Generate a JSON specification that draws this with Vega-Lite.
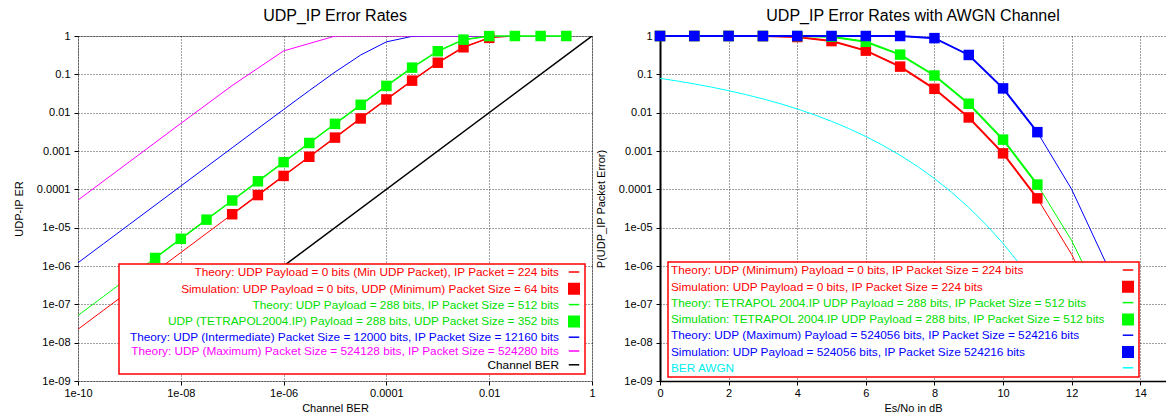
{
  "$schema": "https://vega.github.io/schema/vega-lite/v6.json",
  "background": "white",
  "padding": {"left": 12, "top": 7, "right": 0, "bottom": 0},
  "bounds": "flush",
  "spacing": 68,
  "config": {
    "font": "Liberation Sans",
    "view": {"stroke": null},
    "title": {"font": "Liberation Sans", "fontSize": 16, "fontWeight": "normal", "color": "#000", "offset": 6},
    "axis": {
      "labelFont": "Liberation Sans", "labelFontSize": 11, "labelColor": "#000",
      "titleFont": "Liberation Sans", "titleFontSize": 11, "titleFontWeight": "normal", "titleColor": "#000",
      "gridColor": "#000", "gridDash": [1, 2], "gridOpacity": 0.75, "grid": true,
      "tickColor": "#000", "tickSize": 4, "labelPadding": 4, "labelFlush": false
    },
    "axisX": {"labelPadding": 2, "titlePadding": 4},
    "legend": {
      "labelFont": "Liberation Sans", "labelFontSize": 11.8, "labelLimit": 0,
      "strokeColor": "#ff0000", "fillColor": "#ffffff", "symbolSize": 110,
      "symbolStrokeWidth": 1.5, "rowPadding": 0.8, "title": null
    }
  },
  "datasets": {
    "left": [
      {"x": 1e-10, "y": 2.24e-8, "s": "T224", "k": "t"},
      {"x": 3.162e-10, "y": 7.08e-8, "s": "T224", "k": "t"},
      {"x": 1e-9, "y": 2.24e-7, "s": "T224", "k": "t"},
      {"x": 3.162e-9, "y": 7.08e-7, "s": "T224", "k": "t"},
      {"x": 1e-8, "y": 2.24e-6, "s": "T224", "k": "t"},
      {"x": 3.162e-8, "y": 7.08e-6, "s": "T224", "k": "t"},
      {"x": 1e-7, "y": 2.24e-5, "s": "T224", "k": "t"},
      {"x": 3.162e-7, "y": 7.08e-5, "s": "T224", "k": "t"},
      {"x": 1e-6, "y": 2.24e-4, "s": "T224", "k": "t"},
      {"x": 3.162e-6, "y": 7.08e-4, "s": "T224", "k": "t"},
      {"x": 1e-5, "y": 0.002237, "s": "T224", "k": "t"},
      {"x": 3.162e-5, "y": 0.00706, "s": "T224", "k": "t"},
      {"x": 1e-4, "y": 0.02215, "s": "T224", "k": "t"},
      {"x": 3.162e-4, "y": 0.0684, "s": "T224", "k": "t"},
      {"x": 1e-3, "y": 0.2008, "s": "T224", "k": "t"},
      {"x": 3.162e-3, "y": 0.5081, "s": "T224", "k": "t"},
      {"x": 1e-2, "y": 0.8947, "s": "T224", "k": "t"},
      {"x": 3.162e-2, "y": 0.99925, "s": "T224", "k": "t"},

      {"x": 1e-10, "y": 5.12e-8, "s": "T512", "k": "t"},
      {"x": 3.162e-10, "y": 1.619e-7, "s": "T512", "k": "t"},
      {"x": 1e-9, "y": 5.12e-7, "s": "T512", "k": "t"},
      {"x": 3.162e-9, "y": 1.619e-6, "s": "T512", "k": "t"},
      {"x": 1e-8, "y": 5.12e-6, "s": "T512", "k": "t"},
      {"x": 3.162e-8, "y": 1.619e-5, "s": "T512", "k": "t"},
      {"x": 1e-7, "y": 5.12e-5, "s": "T512", "k": "t"},
      {"x": 3.162e-7, "y": 1.619e-4, "s": "T512", "k": "t"},
      {"x": 1e-6, "y": 5.119e-4, "s": "T512", "k": "t"},
      {"x": 3.162e-6, "y": 0.001618, "s": "T512", "k": "t"},
      {"x": 1e-5, "y": 0.005107, "s": "T512", "k": "t"},
      {"x": 3.162e-5, "y": 0.01606, "s": "T512", "k": "t"},
      {"x": 1e-4, "y": 0.0499, "s": "T512", "k": "t"},
      {"x": 3.162e-4, "y": 0.1495, "s": "T512", "k": "t"},
      {"x": 1e-3, "y": 0.4009, "s": "T512", "k": "t"},
      {"x": 3.162e-3, "y": 0.8024, "s": "T512", "k": "t"},
      {"x": 1e-2, "y": 0.9942, "s": "T512", "k": "t"},
      {"x": 3.162e-2, "y": 1, "s": "T512", "k": "t"},
      {"x": 0.1, "y": 1, "s": "T512", "k": "t"},
      {"x": 0.3162, "y": 1, "s": "T512", "k": "t"},

      {"x": 1e-10, "y": 1.216e-6, "s": "T12160", "k": "t"},
      {"x": 3.162e-10, "y": 3.845e-6, "s": "T12160", "k": "t"},
      {"x": 1e-9, "y": 1.216e-5, "s": "T12160", "k": "t"},
      {"x": 3.162e-9, "y": 3.845e-5, "s": "T12160", "k": "t"},
      {"x": 1e-8, "y": 1.216e-4, "s": "T12160", "k": "t"},
      {"x": 3.162e-8, "y": 3.845e-4, "s": "T12160", "k": "t"},
      {"x": 1e-7, "y": 0.001215, "s": "T12160", "k": "t"},
      {"x": 3.162e-7, "y": 0.003838, "s": "T12160", "k": "t"},
      {"x": 1e-6, "y": 0.01209, "s": "T12160", "k": "t"},
      {"x": 3.162e-6, "y": 0.03772, "s": "T12160", "k": "t"},
      {"x": 1e-5, "y": 0.1145, "s": "T12160", "k": "t"},
      {"x": 3.162e-5, "y": 0.3193, "s": "T12160", "k": "t"},
      {"x": 1e-4, "y": 0.7036, "s": "T12160", "k": "t"},
      {"x": 3.162e-4, "y": 0.9786, "s": "T12160", "k": "t"},
      {"x": 1e-3, "y": 1, "s": "T12160", "k": "t"},
      {"x": 3.162e-3, "y": 1, "s": "T12160", "k": "t"},
      {"x": 1e-2, "y": 1, "s": "T12160", "k": "t"},
      {"x": 3.162e-2, "y": 1, "s": "T12160", "k": "t"},

      {"x": 1e-10, "y": 5.243e-5, "s": "T524280", "k": "t"},
      {"x": 1e-9, "y": 5.241e-4, "s": "T524280", "k": "t"},
      {"x": 1e-8, "y": 0.00523, "s": "T524280", "k": "t"},
      {"x": 1e-7, "y": 0.05108, "s": "T524280", "k": "t"},
      {"x": 1e-6, "y": 0.408, "s": "T524280", "k": "t"},
      {"x": 1e-5, "y": 0.9947, "s": "T524280", "k": "t"},
      {"x": 1e-4, "y": 1, "s": "T524280", "k": "t"},
      {"x": 1e-3, "y": 1, "s": "T524280", "k": "t"},
      {"x": 1e-2, "y": 1, "s": "T524280", "k": "t"},
      {"x": 3.162e-2, "y": 1, "s": "T524280", "k": "t"},

      {"x": 1e-7, "y": 1e-7, "s": "BER", "k": "b"},
      {"x": 1, "y": 1, "s": "BER", "k": "b"},

      {"x": 1e-7, "y": 2.24e-5, "s": "S64", "k": "s"},
      {"x": 3.162e-7, "y": 7.08e-5, "s": "S64", "k": "s"},
      {"x": 1e-6, "y": 2.24e-4, "s": "S64", "k": "s"},
      {"x": 3.162e-6, "y": 7.08e-4, "s": "S64", "k": "s"},
      {"x": 1e-5, "y": 0.002237, "s": "S64", "k": "s"},
      {"x": 3.162e-5, "y": 0.00706, "s": "S64", "k": "s"},
      {"x": 1e-4, "y": 0.02215, "s": "S64", "k": "s"},
      {"x": 3.162e-4, "y": 0.0684, "s": "S64", "k": "s"},
      {"x": 1e-3, "y": 0.2008, "s": "S64", "k": "s"},
      {"x": 3.162e-3, "y": 0.5081, "s": "S64", "k": "s"},
      {"x": 1e-2, "y": 0.8947, "s": "S64", "k": "s"},

      {"x": 3.162e-9, "y": 1.619e-6, "s": "S352", "k": "s"},
      {"x": 1e-8, "y": 5.12e-6, "s": "S352", "k": "s"},
      {"x": 3.162e-8, "y": 1.619e-5, "s": "S352", "k": "s"},
      {"x": 1e-7, "y": 5.12e-5, "s": "S352", "k": "s"},
      {"x": 3.162e-7, "y": 1.619e-4, "s": "S352", "k": "s"},
      {"x": 1e-6, "y": 5.119e-4, "s": "S352", "k": "s"},
      {"x": 3.162e-6, "y": 0.001618, "s": "S352", "k": "s"},
      {"x": 1e-5, "y": 0.005107, "s": "S352", "k": "s"},
      {"x": 3.162e-5, "y": 0.01606, "s": "S352", "k": "s"},
      {"x": 1e-4, "y": 0.0499, "s": "S352", "k": "s"},
      {"x": 3.162e-4, "y": 0.1495, "s": "S352", "k": "s"},
      {"x": 1e-3, "y": 0.4009, "s": "S352", "k": "s"},
      {"x": 3.162e-3, "y": 0.8024, "s": "S352", "k": "s"},
      {"x": 1e-2, "y": 0.9942, "s": "S352", "k": "s"},
      {"x": 3.162e-2, "y": 1, "s": "S352", "k": "s"},
      {"x": 0.1, "y": 1, "s": "S352", "k": "s"},
      {"x": 0.3162, "y": 1, "s": "S352", "k": "s"}
    ],
    "right": [
      {"x": 0, "y": 0.0786, "s": "AWGN", "k": "t"},
      {"x": 0.5, "y": 0.0671, "s": "AWGN", "k": "t"},
      {"x": 1, "y": 0.0563, "s": "AWGN", "k": "t"},
      {"x": 1.5, "y": 0.0464, "s": "AWGN", "k": "t"},
      {"x": 2, "y": 0.0375, "s": "AWGN", "k": "t"},
      {"x": 2.5, "y": 0.0296, "s": "AWGN", "k": "t"},
      {"x": 3, "y": 0.0229, "s": "AWGN", "k": "t"},
      {"x": 3.5, "y": 0.0172, "s": "AWGN", "k": "t"},
      {"x": 4, "y": 0.0125, "s": "AWGN", "k": "t"},
      {"x": 4.5, "y": 0.0088, "s": "AWGN", "k": "t"},
      {"x": 5, "y": 0.00595, "s": "AWGN", "k": "t"},
      {"x": 5.5, "y": 0.00386, "s": "AWGN", "k": "t"},
      {"x": 6, "y": 0.00239, "s": "AWGN", "k": "t"},
      {"x": 6.5, "y": 0.0014, "s": "AWGN", "k": "t"},
      {"x": 7, "y": 7.73e-4, "s": "AWGN", "k": "t"},
      {"x": 7.5, "y": 3.99e-4, "s": "AWGN", "k": "t"},
      {"x": 8, "y": 1.91e-4, "s": "AWGN", "k": "t"},
      {"x": 8.5, "y": 8.4e-5, "s": "AWGN", "k": "t"},
      {"x": 9, "y": 3.36e-5, "s": "AWGN", "k": "t"},
      {"x": 9.5, "y": 1.21e-5, "s": "AWGN", "k": "t"},
      {"x": 10, "y": 3.87e-6, "s": "AWGN", "k": "t"},
      {"x": 10.5, "y": 1.08e-6, "s": "AWGN", "k": "t"},
      {"x": 11, "y": 2.6e-7, "s": "AWGN", "k": "t"},
      {"x": 11.5, "y": 5.3e-8, "s": "AWGN", "k": "t"},
      {"x": 12, "y": 9.0e-9, "s": "AWGN", "k": "t"},

      {"x": 0, "y": 1, "s": "T224", "k": "t"},
      {"x": 1, "y": 1, "s": "T224", "k": "t"},
      {"x": 2, "y": 0.9998, "s": "T224", "k": "t"},
      {"x": 3, "y": 0.9944, "s": "T224", "k": "t"},
      {"x": 4, "y": 0.94, "s": "T224", "k": "t"},
      {"x": 5, "y": 0.737, "s": "T224", "k": "t"},
      {"x": 6, "y": 0.415, "s": "T224", "k": "t"},
      {"x": 7, "y": 0.159, "s": "T224", "k": "t"},
      {"x": 8, "y": 0.0419, "s": "T224", "k": "t"},
      {"x": 9, "y": 0.0075, "s": "T224", "k": "t"},
      {"x": 10, "y": 8.67e-4, "s": "T224", "k": "t"},
      {"x": 11, "y": 5.82e-5, "s": "T224", "k": "t"},
      {"x": 12, "y": 2.0e-6, "s": "T224", "k": "t"},
      {"x": 13, "y": 3.0e-8, "s": "T224", "k": "t"},

      {"x": 0, "y": 1, "s": "T512", "k": "t"},
      {"x": 1, "y": 1, "s": "T512", "k": "t"},
      {"x": 2, "y": 1, "s": "T512", "k": "t"},
      {"x": 3, "y": 1, "s": "T512", "k": "t"},
      {"x": 4, "y": 0.9984, "s": "T512", "k": "t"},
      {"x": 5, "y": 0.953, "s": "T512", "k": "t"},
      {"x": 6, "y": 0.706, "s": "T512", "k": "t"},
      {"x": 7, "y": 0.327, "s": "T512", "k": "t"},
      {"x": 8, "y": 0.0932, "s": "T512", "k": "t"},
      {"x": 9, "y": 0.0171, "s": "T512", "k": "t"},
      {"x": 10, "y": 0.00198, "s": "T512", "k": "t"},
      {"x": 11, "y": 1.33e-4, "s": "T512", "k": "t"},
      {"x": 12, "y": 4.6e-6, "s": "T512", "k": "t"},
      {"x": 13, "y": 6.8e-8, "s": "T512", "k": "t"},

      {"x": 0, "y": 1, "s": "TMAX", "k": "t"},
      {"x": 1, "y": 1, "s": "TMAX", "k": "t"},
      {"x": 2, "y": 1, "s": "TMAX", "k": "t"},
      {"x": 3, "y": 1, "s": "TMAX", "k": "t"},
      {"x": 4, "y": 1, "s": "TMAX", "k": "t"},
      {"x": 5, "y": 1, "s": "TMAX", "k": "t"},
      {"x": 6, "y": 1, "s": "TMAX", "k": "t"},
      {"x": 7, "y": 1, "s": "TMAX", "k": "t"},
      {"x": 8, "y": 0.88, "s": "TMAX", "k": "t"},
      {"x": 9, "y": 0.32, "s": "TMAX", "k": "t"},
      {"x": 10, "y": 0.043, "s": "TMAX", "k": "t"},
      {"x": 11, "y": 0.0031, "s": "TMAX", "k": "t"},
      {"x": 12, "y": 1.0e-4, "s": "TMAX", "k": "t"},
      {"x": 13, "y": 1.2e-6, "s": "TMAX", "k": "t"},

      {"x": 0, "y": 1, "s": "S224", "k": "s"},
      {"x": 1, "y": 1, "s": "S224", "k": "s"},
      {"x": 2, "y": 0.9998, "s": "S224", "k": "s"},
      {"x": 3, "y": 0.9944, "s": "S224", "k": "s"},
      {"x": 4, "y": 0.94, "s": "S224", "k": "s"},
      {"x": 5, "y": 0.737, "s": "S224", "k": "s"},
      {"x": 6, "y": 0.415, "s": "S224", "k": "s"},
      {"x": 7, "y": 0.159, "s": "S224", "k": "s"},
      {"x": 8, "y": 0.0419, "s": "S224", "k": "s"},
      {"x": 9, "y": 0.0075, "s": "S224", "k": "s"},
      {"x": 10, "y": 8.67e-4, "s": "S224", "k": "s"},
      {"x": 11, "y": 5.82e-5, "s": "S224", "k": "s"},

      {"x": 0, "y": 1, "s": "S512", "k": "s"},
      {"x": 1, "y": 1, "s": "S512", "k": "s"},
      {"x": 2, "y": 1, "s": "S512", "k": "s"},
      {"x": 3, "y": 1, "s": "S512", "k": "s"},
      {"x": 4, "y": 0.9984, "s": "S512", "k": "s"},
      {"x": 5, "y": 0.953, "s": "S512", "k": "s"},
      {"x": 6, "y": 0.706, "s": "S512", "k": "s"},
      {"x": 7, "y": 0.327, "s": "S512", "k": "s"},
      {"x": 8, "y": 0.0932, "s": "S512", "k": "s"},
      {"x": 9, "y": 0.0171, "s": "S512", "k": "s"},
      {"x": 10, "y": 0.00198, "s": "S512", "k": "s"},
      {"x": 11, "y": 1.33e-4, "s": "S512", "k": "s"},

      {"x": 0, "y": 1, "s": "SMAX", "k": "s"},
      {"x": 1, "y": 1, "s": "SMAX", "k": "s"},
      {"x": 2, "y": 1, "s": "SMAX", "k": "s"},
      {"x": 3, "y": 1, "s": "SMAX", "k": "s"},
      {"x": 4, "y": 1, "s": "SMAX", "k": "s"},
      {"x": 5, "y": 1, "s": "SMAX", "k": "s"},
      {"x": 6, "y": 1, "s": "SMAX", "k": "s"},
      {"x": 7, "y": 1, "s": "SMAX", "k": "s"},
      {"x": 8, "y": 0.88, "s": "SMAX", "k": "s"},
      {"x": 9, "y": 0.32, "s": "SMAX", "k": "s"},
      {"x": 10, "y": 0.043, "s": "SMAX", "k": "s"},
      {"x": 11, "y": 0.0031, "s": "SMAX", "k": "s"}
    ]
  },
  "resolve": {"scale": {"color": "independent"}, "legend": {"color": "independent"}},
  "hconcat": [
    {
      "width": 514,
      "height": 345,
      "title": "UDP_IP Error Rates",
      "view": {"stroke": "#a0a0a0"},
      "data": {"name": "left"},
      "encoding": {
        "x": {
          "field": "x", "type": "quantitative",
          "scale": {"type": "log", "domain": [1e-10, 1]},
          "axis": {
            "title": "Channel BER", "domain": false,
            "values": [1e-10, 1e-8, 1e-6, 0.0001, 0.01, 1],
            "labelExpr": "datum.value >= 0.0001 ? format(datum.value, '~g') : (datum.value >= 1e-9 ? replace(format(datum.value, '.0e'), 'e-', 'e-0') : format(datum.value, '.0e'))"
          }
        },
        "y": {
          "field": "y", "type": "quantitative",
          "scale": {"type": "log", "domain": [1e-9, 1]},
          "axis": {
            "title": "UDP-IP ER", "titlePadding": 12, "domain": false,
            "values": [1e-9, 1e-8, 1e-7, 1e-6, 1e-5, 0.0001, 0.001, 0.01, 0.1, 1],
            "labelExpr": "datum.value >= 0.0001 ? format(datum.value, '~g') : replace(format(datum.value, '.0e'), 'e-', 'e-0')"
          }
        },
        "color": {
          "field": "s", "type": "nominal",
          "scale": {
            "domain": ["T224", "S64", "T512", "S352", "T12160", "T524280", "BER"],
            "range": ["#ff0000", "#ff0000", "#00ff00", "#00ff00", "#0000ff", "#ff00ff", "#000000"]
          },
          "legend": {
            "orient": "none", "legendX": 41, "legendY": 228, "padding": 2,
            "labelAlign": "right", "labelOffset": -21, "symbolOffset": 447,
            "labelExpr": "{'T224': 'Theory: UDP Payload = 0 bits (Min UDP Packet), IP Packet = 224 bits', 'S64': 'Simulation: UDP Payload = 0 bits, UDP (Minimum) Packet Size = 64 bits', 'T512': 'Theory: UDP Payload = 288 bits, IP Packet Size = 512 bits', 'S352': 'UDP (TETRAPOL2004.IP) Payload = 288 bits, UDP Packet Size = 352 bits', 'T12160': 'Theory: UDP (Intermediate) Packet Size = 12000 bits, IP Packet Size = 12160 bits', 'T524280': 'Theory: UDP (Maximum) Packet Size = 524128 bits, IP Packet Size = 524280 bits', 'BER': 'Channel BER'}[datum.value]",
            "encode": {
              "labels": {"update": {"fill": {"signal": "['#ff0000','#ff0000','#00dd00','#00dd00','#0000ff','#ff00ff','#000000'][datum.index]"}}},
              "symbols": {"update": {
                "shape": {"signal": "['stroke','square','stroke','square','stroke','stroke','stroke'][datum.index]"},
                "fill": {"signal": "['#ff0000','#ff0000','#00ff00','#00ff00','#0000ff','#ff00ff','#000000'][datum.index]"},
                "stroke": {"signal": "['#ff0000','#ff0000','#00ff00','#00ff00','#0000ff','#ff00ff','#000000'][datum.index]"},
                "opacity": {"value": 1}
              }},
              "legend": {"update": {"strokeWidth": {"value": 1.5}}}
            }
          }
        }
      },
      "layer": [
        {"transform": [{"filter": "datum.k == 't'"}], "mark": {"type": "line", "strokeWidth": 1, "clip": true}},
        {"transform": [{"filter": "datum.k == 'b'"}], "mark": {"type": "line", "strokeWidth": 1.5, "clip": true}},
        {"transform": [{"filter": "datum.k == 's'"}], "mark": {"type": "line", "strokeWidth": 1.5}},
        {"transform": [{"filter": "datum.k == 's'"}], "mark": {"type": "point", "shape": "square", "filled": true, "size": 110, "opacity": 1}}
      ]
    },
    {
      "width": 506,
      "height": 345,
      "title": "UDP_IP Error Rates with AWGN Channel",
      "data": {"name": "right"},
      "encoding": {
        "x": {
          "field": "x", "type": "quantitative",
          "scale": {"domain": [0, 14.75], "nice": false},
          "axis": {
            "title": "Es/No in dB", "domainColor": "#000", "domainWidth": 1.5,
            "values": [0, 2, 4, 6, 8, 10, 12, 14], "format": "d"
          }
        },
        "y": {
          "field": "y", "type": "quantitative",
          "scale": {"type": "log", "domain": [1e-9, 1]},
          "axis": {
            "title": "P(UDP_IP Packet Error)", "titlePadding": 12, "domainColor": "#000", "domainWidth": 2,
            "values": [1e-9, 1e-8, 1e-7, 1e-6, 1e-5, 0.0001, 0.001, 0.01, 0.1, 1],
            "labelExpr": "datum.value >= 0.0001 ? format(datum.value, '~g') : replace(format(datum.value, '.0e'), 'e-', 'e-0')"
          }
        },
        "color": {
          "field": "s", "type": "nominal",
          "scale": {
            "domain": ["T224", "S224", "T512", "S512", "TMAX", "SMAX", "AWGN"],
            "range": ["#ff0000", "#ff0000", "#00ff00", "#00ff00", "#0000ff", "#0000ff", "#00ffff"]
          },
          "legend": {
            "orient": "none", "legendX": 8, "legendY": 226, "padding": 2,
            "labelAlign": "left", "labelOffset": -463, "symbolOffset": 452,
            "labelExpr": "{'T224': 'Theory: UDP (Minimum) Payload = 0 bits, IP Packet Size = 224 bits', 'S224': 'Simulation: UDP Payload = 0 bits, IP Packet Size = 224 bits', 'T512': 'Theory: TETRAPOL 2004.IP UDP Payload = 288 bits, IP Packet Size = 512 bits', 'S512': 'Simulation: TETRAPOL 2004.IP UDP Payload = 288 bits, IP Packet Size = 512 bits', 'TMAX': 'Theory: UDP (Maximum) Payload = 524056 bits, IP Packet Size = 524216 bits', 'SMAX': ' Simulation: UDP Payload = 524056 bits, IP Packet Size 524216 bits', 'AWGN': 'BER AWGN'}[datum.value]",
            "encode": {
              "labels": {"update": {"fill": {"signal": "['#ff0000','#ff0000','#00dd00','#00dd00','#0000ff','#0000ff','#00eeee'][datum.index]"}}},
              "symbols": {"update": {
                "shape": {"signal": "['stroke','square','stroke','square','stroke','square','stroke'][datum.index]"},
                "fill": {"signal": "['#ff0000','#ff0000','#00ff00','#00ff00','#0000ff','#0000ff','#00ffff'][datum.index]"},
                "stroke": {"signal": "['#ff0000','#ff0000','#00ff00','#00ff00','#0000ff','#0000ff','#00ffff'][datum.index]"},
                "opacity": {"value": 1}
              }},
              "legend": {"update": {"strokeWidth": {"value": 1.5}}}
            }
          }
        }
      },
      "layer": [
        {"transform": [{"filter": "datum.k == 't'"}], "mark": {"type": "line", "strokeWidth": 1, "clip": true}},
        {"transform": [{"filter": "datum.k == 's'"}], "mark": {"type": "line", "strokeWidth": 2}},
        {"transform": [{"filter": "datum.k == 's'"}], "mark": {"type": "point", "shape": "square", "filled": true, "size": 110, "opacity": 1}}
      ]
    }
  ]
}
